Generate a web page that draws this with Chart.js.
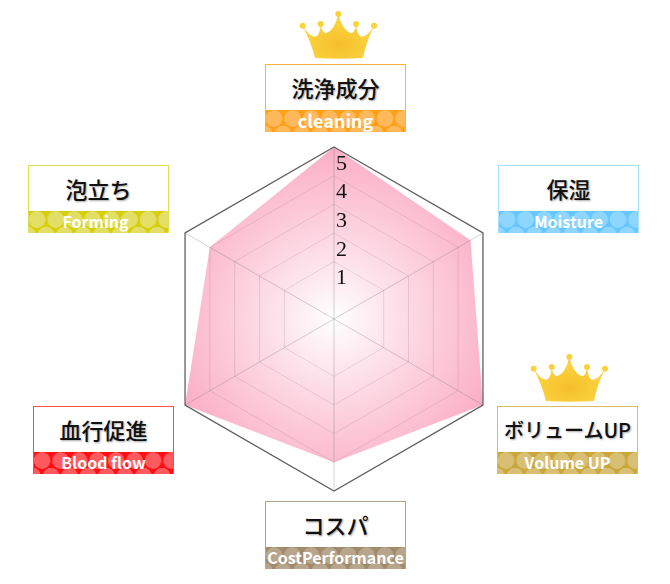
<!DOCTYPE html>
<html>
<head>
<meta charset="utf-8">
<script src="https://cdn.jsdelivr.net/npm/chart.js@4"></script>
<style>
html,body{margin:0;padding:0;background:#fff;width:670px;height:584px;overflow:hidden}
#c{position:absolute;left:0;top:0}
.box{position:absolute;box-sizing:border-box;width:141px;height:68px;border:1px solid;border-bottom:none;background:#fff;font-family:"Noto Sans CJK JP",sans-serif;overflow:hidden}
.ja{position:absolute;left:-1px;right:-1px;top:6px;height:33px;line-height:33px;text-align:center;font-weight:500;color:#111;text-shadow:1px 1px 2px rgba(0,0,0,.35);white-space:nowrap}
.en{position:absolute;left:-1px;right:-1px;bottom:0;height:22px;line-height:20px;text-align:center;font-weight:700;color:#fff;white-space:nowrap;
 background-size:18.5px 22px,18.5px 22px;background-position:0 0,9px 0}
svg.crown{position:absolute;width:80px;height:52px;overflow:visible}
</style>
</head>
<body>
<canvas id="c" width="670" height="584"></canvas>
<script>
const categories = ["洗浄成分","保湿","ボリュームUP","コスパ","血行促進","泡立ち"];
const subLabels = ["cleaning","Moisture","Volume UP","CostPerformance","Blood flow","Forming"];
const scores = [5,4.5,5,4,5,4];
const tickLabels = [1,2,3,4,5];
const crowned = [0,2];

const boxLeft = [265,498,497,265,33,28];
const boxTop = [64,165,406,501,406,165];
const jaSize = [22,22,20,22,22,22];
const enSize = [18,16,16,16,16,16];
const enShift = [0,0,0,0,0,-3];
const boxBorder = ["#ffb13c","#a5e1fb","#d8bd62","#b5a48c","#ff4a50","#e0dc50"];
const bandBase = ["#ffa01a","#66c6fd","#c9a73b","#a18a6c","#ff0f14","#d6d00c"];
const bandDot = ["#ffb85a","#8ed6fe","#d8bf74","#b8a68c","#ff5a5e","#e3df66"];
const crownLeft = [300,531];
const crownTop = [10,353];

const tickPlugin = {
  id:'offsetTicks',
  afterDraw(chart){
    const s = chart.scales.r, ctx = chart.ctx;
    ctx.save();
    ctx.font = '22px "Liberation Serif"';
    ctx.fillStyle = '#111';
    ctx.textAlign = 'center';
    ctx.textBaseline = 'middle';
    tickLabels.forEach(v=>{
      ctx.fillText(String(v), s.xCenter+7.5, s.yCenter - s.getDistanceFromCenterForValue(v) + 17);
    });
    ctx.restore();
  }
};

new Chart(document.getElementById('c'),{
  type:'radar',
  data:{labels:categories,datasets:[{
    data:scores,
    fill:'start',
    borderWidth:0,
    borderColor:'rgba(0,0,0,0)',
    pointRadius:0,
    pointHoverRadius:0,
    backgroundColor(ctx){
      const s = ctx.chart.scales.r;
      if(!s || !s.drawingArea) return '#fbb3c8';
      const g = ctx.chart.ctx.createRadialGradient(s.xCenter,s.yCenter,0,s.xCenter,s.yCenter,s.drawingArea);
      g.addColorStop(0,'#ffffff');
      g.addColorStop(0.35,'#fde1ea');
      g.addColorStop(0.7,'#fcc5d6');
      g.addColorStop(1,'#fbaec5');
      return g;
    }
  }]},
  options:{
    responsive:false,
    animation:false,
    devicePixelRatio:1,
    layout:{padding:{left:162.5,top:147.5,right:163.5,bottom:92.5}},
    plugins:{legend:{display:false},tooltip:{enabled:false}},
    scales:{r:{
      min:-1,max:5,
      ticks:{stepSize:1,display:false},
      pointLabels:{display:false},
      angleLines:{color:'rgba(110,110,110,.3)',lineWidth:1},
      grid:{
        z:1,
        lineWidth(ctx){ return ctx.tick && ctx.tick.value===5 ? 1.3 : 1; },
        color(ctx){
          const v = ctx.tick ? ctx.tick.value : 0;
          if(v===5) return '#5f5f5f';
          if(v<1) return 'rgba(0,0,0,0)';
          return 'rgba(130,90,105,.17)';
        }
      }
    }}
  },
  plugins:[tickPlugin]
});

categories.forEach((name,i)=>{
  const b = document.createElement('div');
  b.className='box';
  b.style.left=boxLeft[i]+'px';
  b.style.top=boxTop[i]+'px';
  b.style.borderColor=boxBorder[i];
  const ja=document.createElement('div');ja.className='ja';ja.textContent=name;
  ja.style.fontSize=jaSize[i]+'px';
  const en=document.createElement('div');en.className='en';en.textContent=subLabels[i];
  en.style.fontSize=enSize[i]+'px';
  en.style.textIndent=(enShift[i]*2)+'px';
  const dot=`radial-gradient(circle at 9px 8.5px,${bandDot[i]} 8px,transparent 8.5px)`;
  const dot2=`radial-gradient(circle at 9px 24px,${bandDot[i]} 8px,transparent 8.5px)`;
  en.style.backgroundColor=bandBase[i];
  en.style.backgroundImage=dot+','+dot2;
  b.appendChild(ja);b.appendChild(en);
  document.body.appendChild(b);
});

crowned.forEach((_,i)=>{
  const ns='http://www.w3.org/2000/svg';
  const svg=document.createElementNS(ns,'svg');
  svg.setAttribute('class','crown');
  svg.setAttribute('viewBox','0 0 80 52');
  svg.style.left=crownLeft[i]+'px';
  svg.style.top=crownTop[i]+'px';
  const c='#fbd13c';
  svg.innerHTML=`<defs><radialGradient id="cg${i}" cx="50%" cy="68%" r="45%"><stop offset="0" stop-color="#f4bf2c"/><stop offset="1" stop-color="#fbd13c"/></radialGradient></defs>
  <path fill="url(#cg${i})" d="M15 48 Q11 32 2.7 16 Q9 26 15 26.7 Q20 26 20.7 14 Q22 23 26 23.3 Q35 20 38.3 4 Q42 20 50.9 23.3 Q55 23 56 14 Q57 26 61.6 26.7 Q68 26 74 16 Q66 32 63 48 Q39 49.5 15 48Z"/>
  <circle cx="2.7" cy="15.7" r="3" fill="${c}"/><circle cx="20.7" cy="14" r="3" fill="${c}"/><circle cx="38.3" cy="4" r="3" fill="${c}"/><circle cx="56" cy="14" r="3" fill="${c}"/><circle cx="74" cy="15.7" r="3" fill="${c}"/>`;
  document.body.appendChild(svg);
});
</script>
</body>
</html>
